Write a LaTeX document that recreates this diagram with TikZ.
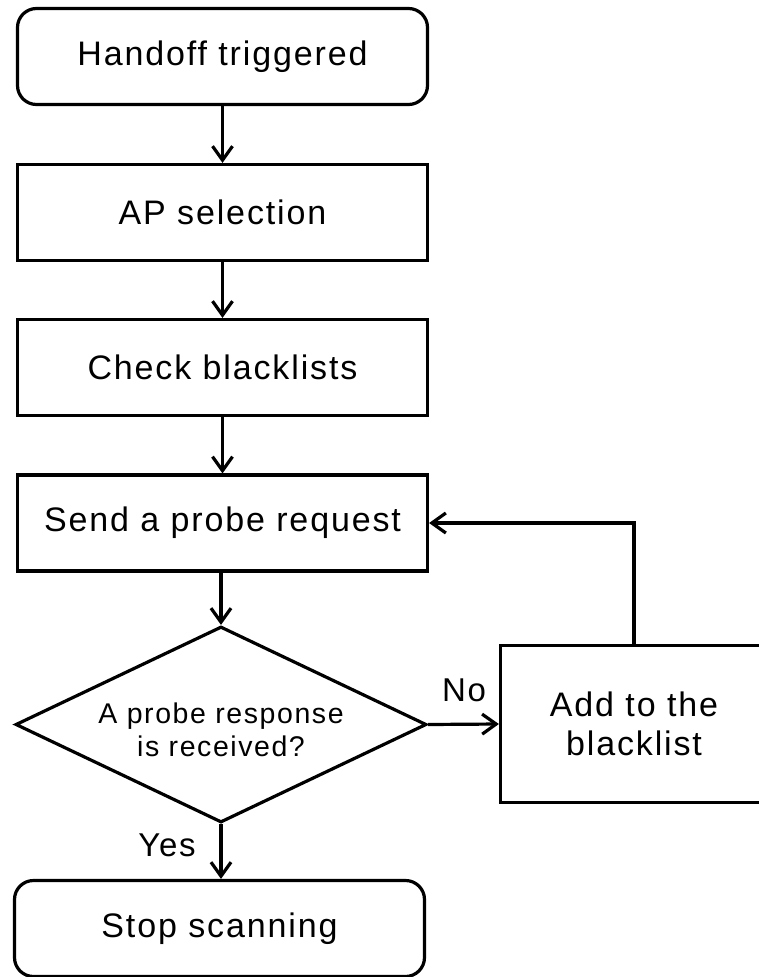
\documentclass[tikz,border=0pt]{standalone}
\usepackage{fontspec}
\setmainfont{Liberation Sans}[LetterSpace=5.5]
\usetikzlibrary{shapes.geometric,arrows.meta}

\tikzset{
  every node/.style={font=\fontsize{34}{39}\selectfont, inner sep=0pt, align=center},
  proc/.style={draw, line width=3.2pt, rectangle, minimum width=410pt, minimum height=96pt},
  term/.style={proc, rounded corners=19pt},
  decision/.style={draw, line width=3.2pt, diamond, shape aspect=2.09,
                   minimum width=411pt, minimum height=196pt,
                   font=\fontsize{28.5}{33}\selectfont},
  flow/.style={line width=3.2pt, -{Straight Barb[length=14pt,width=20pt,line width=3.2pt]}},
  lbl/.style={font=\fontsize{33}{39}\selectfont}
}

\begin{document}
\begin{tikzpicture}[x=1pt, y=-1pt]
  \useasboundingbox (0,0) rectangle (758,977);

  % main column
  \node[term] (start) at (222.5,56.5) {Handoff triggered};
  \node[proc] (sel)   at (222.5,212.5) {AP selection};
  \node[proc] (chk)   at (222.5,367.5) {Check blacklists};
  \node[proc] (req)   at (222.5,523)   {Send a probe request};
  % the strut sets the two text lines a little below the diamond's centre
  \node[decision] (dec) at (221,724.5) {\rule{0pt}{32pt}A probe response\\is received?};
  \node[term] (stop)  at (219.5,928.5) {Stop scanning};

  % side branch
  \node[proc, minimum width=267pt, minimum height=157pt] (add) at (634,724) {Add to the\\blacklist};

  % connectors
  \draw[flow] (req.south -| dec.north) -- (dec.north);
  \draw[flow] (start.south) -- (sel.north);
  \draw[flow] (sel.south) -- (chk.north);
  \draw[flow] (chk.south) -- (req.north);
  \draw[flow] (dec.south) -- (dec.south |- stop.north);
  \draw[flow] (dec.east) -- (add.west);
  \draw[flow] (add.north) |- (req.east);

  % branch labels
  \node[lbl] (no)  at (464,690) {No};
  \node[lbl] (yes) at (167,845) {Yes};
\end{tikzpicture}
\end{document}
